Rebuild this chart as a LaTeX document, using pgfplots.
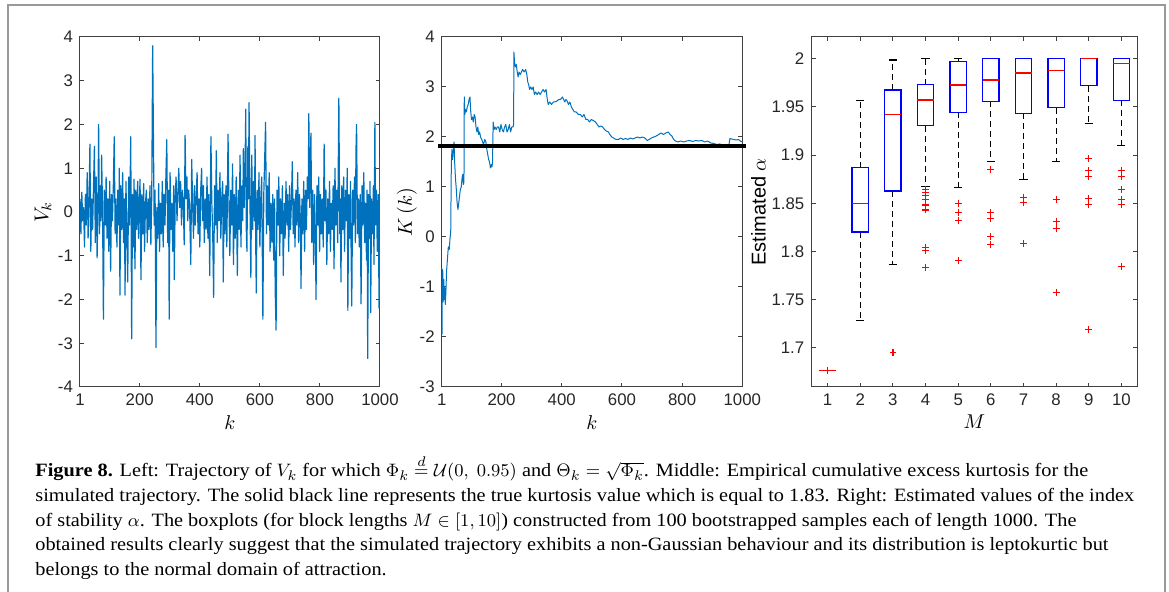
\documentclass[border=0pt]{standalone}
\usepackage{fontspec}
\setmainfont[FakeStretch=1.08]{Liberation Serif}
\newfontfamily\ticksf{Liberation Sans}
\usepackage{pgfplots}
\pgfplotsset{compat=1.18}
\usepgfplotslibrary{statistics}
\definecolor{matblue}{rgb}{0,0.447,0.741}
\definecolor{axgray}{rgb}{0.25,0.25,0.25}
\pgfplotsset{
  mat/.style={
    scale only axis,
    anchor=south west,
    axis line style={axgray, line width=0.5pt},
    every tick/.style={axgray, line width=0.5pt},
    tick align=inside,
    major tick length=2.2pt,
    tick label style={font=\ticksf\fontsize{8.4}{10}\selectfont, text=black!85},
    /pgf/number format/assume math mode=true,
    /pgf/number format/1000 sep={},
    label style={font=\fontsize{10}{12}\selectfont},
    scaled ticks=false,
  },
  bx/.style={blue, solid, line width=0.7pt, mark=+, mark size=1.7pt, mark options={red, solid, line width=0.6pt}},
}
\begin{document}
\begin{tikzpicture}
\useasboundingbox (0,0) rectangle (584.5pt,296pt);
\draw[black!40, line width=0.8pt] (4pt,-2pt) -- (4pt,293.5pt) -- (582.5pt,293.5pt) -- (582.5pt,-2pt);

% ---------- Left ----------
\begin{axis}[mat, at={(40pt,102.5pt)}, width=150pt, height=175pt,
  xmin=1, xmax=1000, ymin=-4, ymax=4,
  xtick={1,200,400,600,800,1000}, ytick={-4,-3,-2,-1,0,1,2,3,4},
  xlabel={$k$}, ylabel={$V_k$},
  xlabel style={at={(axis description cs:0.5,-0.103)}, anchor=center},
  ylabel style={at={(axis description cs:-0.123,0.5)}, anchor=center},
]
\addplot[matblue, line width=0.6pt, line join=round] table {
1 0.3
4 -0.5
7 0.45
10 -0.2
13 0.1
16 -0.8
19 0.4
22 -0.3
25 0.9
28 -0.6
31 0.2
34 1.55
37 -0.9
40 0.3
43 -0.4
46 0.6
49 1.5
52 -0.7
55 0.8
58 -1.05
61 0.2
63 2.0
66 -0.5
69 0.6
71 -0.2
73 1.3
76 0.1
79 -2.45
82 0.5
85 -0.3
88 0.8
91 -0.6
94 0.3
97 -0.9
100 0.7
103 -1.35
106 0.4
109 -0.2
112 0.6
115 1.72
118 -0.5
121 0.3
124 -0.8
127 0.5
130 -0.3
132 1.0
134 -1.9
137 0.6
140 -0.4
143 0.9
146 -0.7
149 0.3
151 -1.9
154 0.7
157 -0.5
160 -1.6
163 0.8
166 -0.3
170 1.72
173 -2.9
176 0.4
179 -0.8
181 0.75
184 -1.3
187 0.5
190 -0.4
193 0.7
196 -0.6
199 0.3
201 0.75
204 -1.55
207 0.4
210 -0.5
213 0.65
216 -0.9
219 0.2
222 0.5
225 -0.7
228 0.3
231 -0.4
234 0.6
237 -0.75
240 0.4
243 3.8
245 2.15
248 -0.3
251 0.5
254 -3.1
257 0.1
260 -0.6
263 0.65
266 -0.9
269 0.2
272 -0.5
275 0.7
278 -0.8
281 0.4
284 -0.3
287 0.8
290 1.65
293 -0.7
296 0.5
298 -2.45
301 0.9
304 -0.4
307 0.2
310 -0.9
313 0.6
315 -1.55
318 0.3
321 0.8
324 -0.2
327 0.4
330 1.0
333 0.1
336 0.7
339 -0.3
342 0.5
345 0.2
348 -0.75
351 1.75
354 0.3
357 0.8
360 -0.2
363 0.5
366 0.1
370 -1.2
373 1.2
376 0.2
379 -0.6
382 0.6
385 -0.3
388 0.4
391 0.9
394 -0.5
397 0.3
400 -0.8
403 0.5
406 1.0
409 -0.2
412 0.6
415 -0.7
418 0.3
421 -0.4
424 0.8
427 -0.6
430 0.4
433 -1.45
437 1.72
440 0.2
443 -0.5
446 -1.95
449 0.6
452 -0.3
455 1.4
458 -0.7
461 0.5
464 -0.2
467 0.9
470 -0.6
473 0.3
476 0.7
478 -1.6
481 0.4
484 -0.5
487 0.6
490 -0.8
494 1.78
497 0.2
500 -1.0
503 0.5
506 -0.3
509 1.1
512 -1.2
515 0.4
518 -0.6
521 0.8
525 -1.45
528 0.5
531 -0.4
534 1.3
537 -0.8
540 0.6
543 -0.2
545 1.45
548 0.1
551 1.2
553 2.35
555 -0.5
557 -0.9
560 1.5
562 0.3
564 2.5
567 0.2
570 -1.5
573 1.3
576 -0.4
579 0.7
582 -0.2
584 1.75
586 -0.6
588 -1.85
591 0.5
594 -0.4
597 0.9
600 -0.8
603 0.3
606 0.8
610 -2.45
613 0.4
616 1.2
619 2.05
622 -0.5
625 0.6
628 -0.3
631 0.9
634 -0.9
637 0.2
640 -0.7
643 0.4
646 -1.1
649 0.3
651 -1.8
654 -2.7
657 0.5
660 -0.3
663 0.8
666 -1.0
669 0.3
672 -0.5
675 0.6
678 -1.45
681 0.2
684 -0.6
687 0.7
690 -0.3
693 0.4
696 -0.9
699 0.6
702 -0.4
705 0.2
708 1.15
711 -0.5
714 0.3
717 -0.8
720 0.5
723 -0.3
726 0.9
729 -0.7
732 0.4
735 -0.2
737 -1.75
740 0.3
743 -0.5
746 0.7
749 -0.9
752 0.5
755 -0.4
758 0.8
761 0.3
763 2.25
766 0.1
768 1.2
770 1.8
773 -0.7
776 0.5
779 -1.2
782 0.4
785 -0.6
787 -2.0
790 0.6
793 -0.3
796 0.8
799 -0.9
802 0.4
805 -0.5
808 0.3
811 -0.8
814 1.55
817 -0.2
820 0.5
823 -1.2
826 0.3
829 -0.5
832 0.7
835 -0.9
838 0.2
841 -0.4
844 0.6
847 -1.3
850 1.0
853 -0.3
856 0.5
859 -0.7
861 1.0
863 2.6
866 -0.5
868 0.3
870 -1.6
873 0.6
876 -0.4
879 0.8
882 -0.9
885 0.5
888 -0.2
891 1.0
893 -2.25
896 0.4
899 -0.6
902 0.7
904 -1.0
906 -2.15
909 0.5
912 -0.3
915 0.8
918 -0.7
920 1.4
922 2.0
925 -0.5
928 0.3
931 -0.8
934 0.4
937 -2.1
940 0.6
943 -0.3
946 0.9
949 -0.7
952 0.2
955 -1.1
957 0.5
959 -3.35
962 0.4
965 -0.6
967 0.7
969 -2.3
972 0.3
975 -0.5
978 0.6
980 -1.2
983 2.05
985 -0.3
988 0.5
991 -0.9
994 0.4
997 -2.2
1000 1.25
};
\end{axis}

% ---------- Middle ----------
\begin{axis}[mat, at={(220.85pt,102.5pt)}, width=150.3pt, height=175pt,
  xmin=1, xmax=1000, ymin=-3, ymax=4,
  xtick={1,200,400,600,800,1000}, ytick={-3,-2,-1,0,1,2,3,4},
  xlabel={$k$}, ylabel={$K\,(k)$},
  xlabel style={at={(axis description cs:0.5,-0.103)}, anchor=center},
  ylabel style={at={(axis description cs:-0.116,0.5)}, anchor=center},
  clip=false,
]
\addplot[matblue, line width=0.5pt, line join=round] table {
2 -1.95
3 -0.65
5 -0.7
6 -1.3
8 -0.85
10 -1.25
11 -1.0
13 -1.35
15 -1.1
17 -0.7
20 -0.45
23 -0.2
26 -0.25
29 0.0
31 0.1
33 1.45
35 1.75
37 1.55
39 1.7
42 1.9
44 1.5
47 1.15
49 1.0
52 0.7
55 0.55
57 0.65
60 0.8
63 0.95
66 1.0
69 1.2
71 1.25
73 1.05
75 1.1
76 2.8
78 2.45
80 2.55
83 2.5
86 2.6
89 2.65
92 2.75
95 2.8
97 2.55
100 2.35
103 2.4
106 2.3
109 2.45
112 2.4
115 2.2
118 2.1
121 2.2
124 2.05
127 2.1
130 2.0
134 1.95
137 1.9
140 1.85
144 1.95
148 1.9
151 1.75
154 1.65
157 1.55
160 1.5
163 1.38
166 1.45
168 1.4
170 1.5
172 2.3
175 2.15
178 2.2
182 2.15
186 2.2
190 2.2
194 2.1
198 2.25
202 2.15
206 2.1
210 2.2
214 2.25
218 2.1
222 2.15
226 2.25
230 2.1
234 2.2
238 2.2
240 2.25
241 3.7
243 3.5
246 3.4
249 3.45
252 3.3
255 3.2
258 3.3
262 3.25
266 3.3
270 3.35
275 3.3
280 3.35
284 3.25
287 3.1
290 3.05
293 2.95
297 3.0
301 2.95
305 3.0
309 2.85
313 2.9
318 2.85
323 2.9
328 2.85
333 2.9
338 2.95
343 2.9
348 2.95
352 2.75
355 2.65
360 2.7
366 2.65
372 2.7
378 2.7
384 2.72
390 2.75
396 2.75
402 2.8
406 2.75
410 2.7
414 2.75
418 2.72
422 2.65
427 2.7
432 2.6
437 2.55
442 2.5
448 2.5
455 2.45
462 2.45
468 2.4
474 2.45
480 2.35
486 2.35
492 2.3
498 2.35
505 2.33
512 2.3
518 2.25
524 2.2
530 2.22
536 2.2
542 2.15
548 2.12
555 2.1
560 2.05
566 2.0
572 1.98
580 1.95
588 1.95
596 1.98
604 1.95
612 1.97
620 1.95
628 1.98
636 1.96
644 1.98
652 2.0
660 1.98
668 2.0
676 1.98
684 1.93
690 1.95
698 1.98
706 2.0
714 2.02
722 2.05
730 2.08
738 2.05
746 2.08
754 2.1
760 2.05
766 2.02
772 1.95
778 1.92
786 1.9
795 1.92
805 1.9
815 1.92
825 1.93
835 1.91
845 1.93
855 1.92
865 1.93
875 1.9
885 1.92
895 1.88
905 1.87
915 1.85
925 1.86
935 1.84
945 1.85
955 1.83
959 1.97
965 1.96
972 1.95
980 1.94
987 1.95
993 1.92
1000 1.9
};
\addplot[black, line width=2pt] coordinates {(-12,1.81) (1013,1.81)};
\end{axis}

% ---------- Right ----------
\begin{axis}[mat, at={(405.65pt,102.5pt)}, width=163.2pt, height=175pt,
  xmin=0.5, xmax=10.5, ymin=1.6595, ymax=2.0225,
  xtick={1,2,3,4,5,6,7,8,9,10},
  ytick={1.7,1.75,1.8,1.85,1.9,1.95,2},
  yticklabels={1.7,1.75,1.8,1.85,1.9,1.95,2},
  xlabel={$M$}, ylabel={{\ticksf Estimated} $\alpha$},
  xlabel style={at={(axis description cs:0.5,-0.1)}, anchor=center},
  ylabel style={at={(axis description cs:-0.162,0.5)}, anchor=center},
  boxplot/draw direction=y,
  boxplot/box extend=0.5,
  boxplot/whisker extend=0.25,
  boxplot/every box/.style={draw=blue, line width=0.7pt},
  boxplot/every median/.style={draw=red, line width=0.6pt},
  boxplot/draw/lower whisker/.code={%
    \draw[black, line width=0.55pt] (boxplot whisker cs:\pgfplotsboxplotvalue{lower whisker},0) -- (boxplot whisker cs:\pgfplotsboxplotvalue{lower whisker},1);
    \draw[black, line width=0.55pt, dash pattern=on 3pt off 2pt] (boxplot cs:\pgfplotsboxplotvalue{lower quartile}) -- (boxplot cs:\pgfplotsboxplotvalue{lower whisker});
  },
  boxplot/draw/upper whisker/.code={%
    \draw[black, line width=0.55pt] (boxplot whisker cs:\pgfplotsboxplotvalue{upper whisker},0) -- (boxplot whisker cs:\pgfplotsboxplotvalue{upper whisker},1);
    \draw[black, line width=0.55pt, dash pattern=on 3pt off 2pt] (boxplot cs:\pgfplotsboxplotvalue{upper quartile}) -- (boxplot cs:\pgfplotsboxplotvalue{upper whisker});
  },
]
\addplot[bx, boxplot prepared={draw position=1, lower whisker=1.6768, lower quartile=1.6768, median=1.6768, upper quartile=1.6768, upper whisker=1.6768}] coordinates {(0,1.6768)};
\addplot[bx, boxplot prepared={draw position=2, lower whisker=1.7287, lower quartile=1.8204, median=1.8495, upper quartile=1.8869, upper whisker=1.9564}] coordinates {};
\addplot[bx, boxplot prepared={draw position=3, lower whisker=1.7865, lower quartile=1.8626, median=1.9422, upper quartile=1.9675, upper whisker=1.9986}] coordinates {(0,1.6952)};
\addplot[bx, boxplot prepared={draw position=4, lower whisker=1.8675, lower quartile=1.9304, median=1.9571, upper quartile=1.9730, upper whisker=2.0}] coordinates {(0,1.8647) (0,1.861) (0,1.858) (0,1.854) (0,1.849) (0,1.848) (0,1.843) (0,1.8038) (0,1.8007) (0,1.7834)};
\addplot[bx, boxplot prepared={draw position=5, lower whisker=1.8664, lower quartile=1.9443, median=1.9727, upper quartile=1.9972, upper whisker=2.0}] coordinates {(0,1.8495) (0,1.8408) (0,1.8325) (0,1.7907)};
\addplot[bx, boxplot prepared={draw position=6, lower whisker=1.8934, lower quartile=1.9557, median=1.9779, upper quartile=2.0, upper whisker=2.0}] coordinates {(0,1.8851) (0,1.8408) (0,1.8343) (0,1.8156) (0,1.8073)};
\addplot[bx, boxplot prepared={draw position=7, lower whisker=1.8747, lower quartile=1.9433, median=1.9851, upper quartile=2.0, upper whisker=2.0}] coordinates {(0,1.8564) (0,1.8512) (0,1.8087)};
\addplot[bx, boxplot prepared={draw position=8, lower whisker=1.8934, lower quartile=1.9491, median=1.9879, upper quartile=2.0, upper whisker=2.0}] coordinates {(0,1.8543) (0,1.8308) (0,1.8242) (0,1.7578)};
\addplot[bx, boxplot prepared={draw position=9, lower whisker=1.9325, lower quartile=1.9720, median=2.0, upper quartile=2.0, upper whisker=2.0}] coordinates {(0,1.8965) (0,1.8844) (0,1.8775) (0,1.8554) (0,1.8491) (0,1.719)};
\addplot[bx, boxplot prepared={draw position=10, lower whisker=1.9097, lower quartile=1.9567, median=1.9952, upper quartile=2.0, upper whisker=2.0}] coordinates {(0,1.8844) (0,1.8782) (0,1.8647) (0,1.854) (0,1.8488) (0,1.7848)};
\end{axis}

% ---------- Caption ----------
\node[anchor=base west, align=left, inner sep=0pt, font=\fontsize{9.4}{12.3}\selectfont] at (17.5pt,8.3pt)
{\textbf{Figure 8.} Left: Trajectory of $V_k$ for which $\Phi_k \stackrel{d}{=} \mathcal{U}(0,\ 0.95)$ and $\Theta_k = \sqrt{\Phi_k}$. Middle: Empirical cumulative excess kurtosis for the\\
simulated trajectory. The solid black line represents the true kurtosis value which is equal to 1.83. Right: Estimated values of the index\\
of stability $\alpha$. The boxplots (for block lengths $M \in [1, 10]$) constructed from 100 bootstrapped samples each of length 1000. The\\
obtained results clearly suggest that the simulated trajectory exhibits a non-Gaussian behaviour and its distribution is leptokurtic but\\
belongs to the normal domain of attraction.};
\end{tikzpicture}
\end{document}
